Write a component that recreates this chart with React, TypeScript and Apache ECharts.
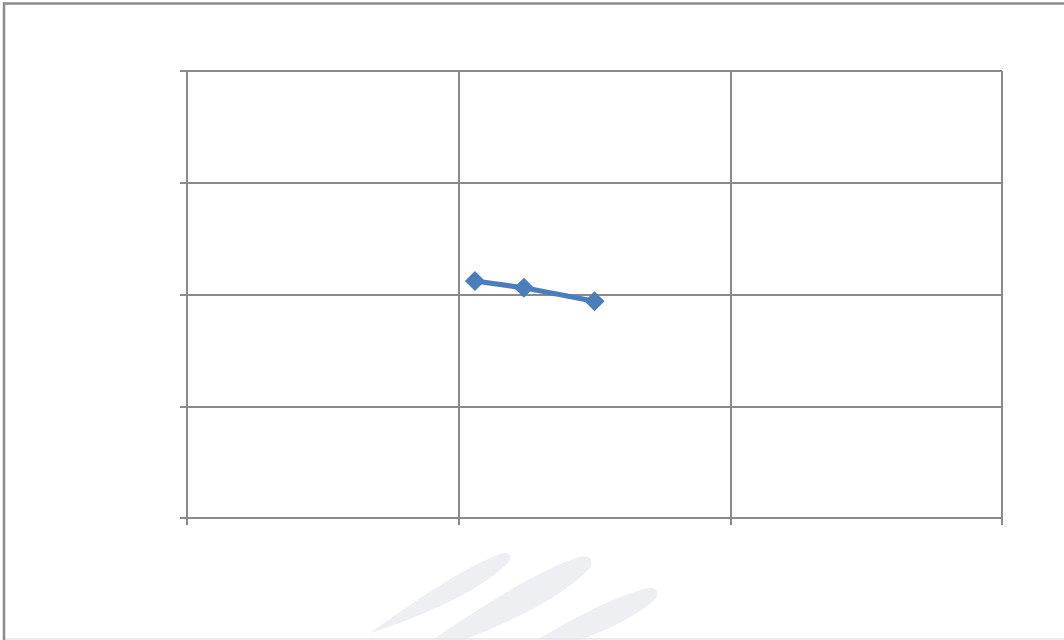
import React, { useEffect, useRef } from "react";
import * as echarts from "echarts";

const xValues = [1.06, 1.24, 1.5];
const yValues = [2.12, 2.06, 1.94];
const xTicks = [0, 1, 2, 3];
const yTicks = [0, 1, 2, 3, 4];

const leafPath = "M0 0 C 35 -6, 72 -12, 96 -8 C 101 -7, 101 -2, 97 0 C 75 9, 35 7, 0 0 Z";
let registered = false;

export default function App() {
  const ref = useRef<HTMLDivElement>(null);
  useEffect(() => {
    if (!ref.current) return;
    if (!registered) {
      echarts.graphic.registerShape("leaf", echarts.graphic.extendPath(leafPath, {}));
      registered = true;
    }
    const chart = echarts.init(ref.current, undefined, { renderer: "svg" });
    const gridColor = "#8a8a8a";
    const feather = "#edeff3";
    const leaf = (tx: number, ty: number, len: number, wid: number, deg: number) => ({
      type: "leaf",
      z: -1,
      x: tx,
      y: ty,
      rotation: (deg * Math.PI) / 180,
      scaleX: len / 100,
      scaleY: wid / 16,
      style: { fill: feather },
    });
    chart.setOption({
      animation: false,
      backgroundColor: "#ffffff",
      grid: { left: 187, top: 71, right: 62, bottom: 122, containLabel: false },
      xAxis: {
        type: "value",
        min: xTicks[0],
        max: xTicks[xTicks.length - 1],
        interval: 1,
        axisLine: { show: true, lineStyle: { color: gridColor, width: 2 } },
        axisTick: { show: true, length: 7, inside: false, lineStyle: { color: gridColor, width: 2 } },
        axisLabel: { show: false },
        splitLine: { show: true, lineStyle: { color: gridColor, width: 2 } },
      },
      yAxis: {
        type: "value",
        min: yTicks[0],
        max: yTicks[yTicks.length - 1],
        interval: 1,
        axisLine: { show: true, lineStyle: { color: gridColor, width: 2 } },
        axisTick: { show: true, length: 7, inside: false, lineStyle: { color: gridColor, width: 2 } },
        axisLabel: { show: false },
        splitLine: { show: true, lineStyle: { color: gridColor, width: 2 } },
      },
      graphic: [
        {
          type: "rect",
          z: 100,
          shape: { x: 4, y: 3.5, width: 1080, height: 660 },
          style: { fill: "none", stroke: "#8c8c8c", lineWidth: 2.5 },
        },
        {
          type: "line",
          z: 99,
          shape: { x1: 4, y1: 639, x2: 1064, y2: 639 },
          style: { stroke: "#e6e6e6", lineWidth: 1.5 },
        },
        leaf(370, 633, 160, 22, 27),
        leaf(403, 660, 213, 30, 26),
        leaf(500, 662, 172, 26, 22),
      ],
      series: [
        {
          type: "line",
          data: xValues.map((x, i) => [x, yValues[i]]),
          symbol: "diamond",
          symbolSize: 20,
          showSymbol: true,
          lineStyle: { color: "#4a7ebb", width: 5 },
          itemStyle: { color: "#4a7ebb" },
        },
      ],
    });
    return () => chart.dispose();
  }, []);
  return (
    <div
      ref={ref}
      style={{ position: "fixed", left: 0, top: 0, width: 1064, height: 640 }}
    />
  );
}
